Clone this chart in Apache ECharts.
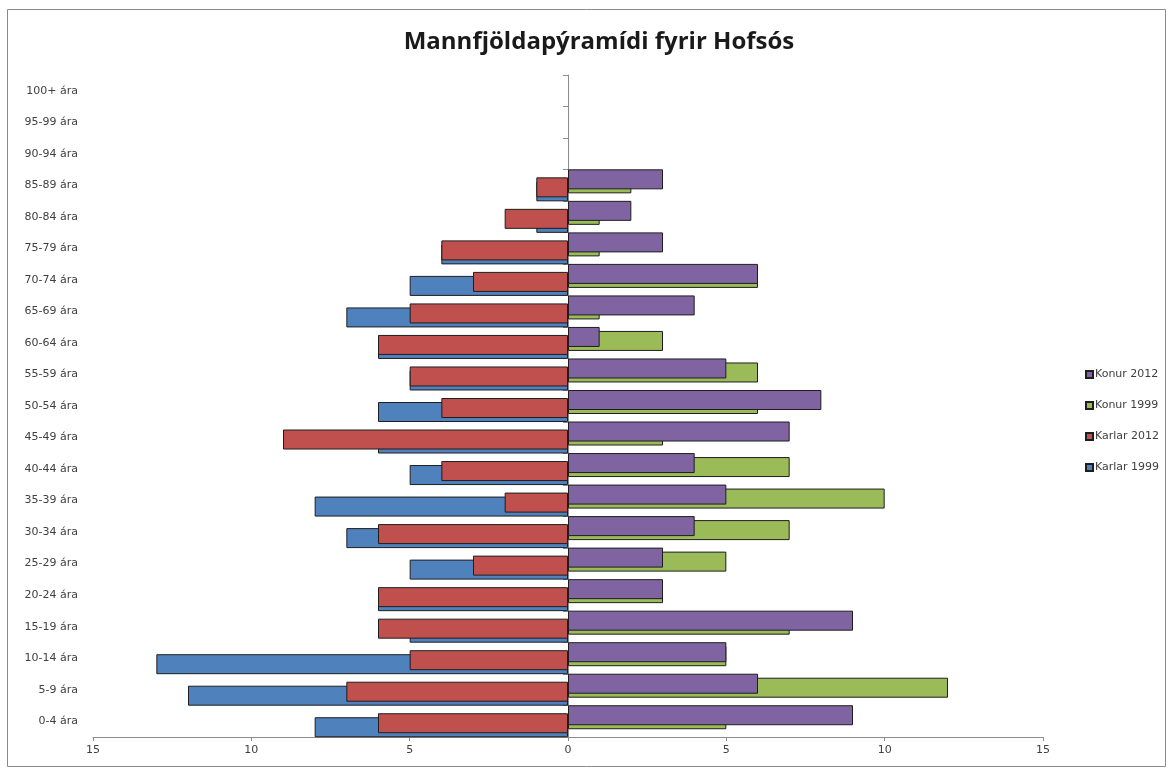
<!DOCTYPE html>
<html>
<head>
<meta charset="utf-8">
<script src="https://cdn.jsdelivr.net/npm/echarts@6/dist/echarts.min.js"></script>
<style>
html,body{margin:0;padding:0;background:#fff;}
#chart{width:1171px;height:770px;}
</style>
</head>
<body>
<div id="chart"></div>
<script>
const categories = ['0-4 ára','5-9 ára','10-14 ára','15-19 ára','20-24 ára','25-29 ára','30-34 ára','35-39 ára','40-44 ára','45-49 ára','50-54 ára','55-59 ára','60-64 ára','65-69 ára','70-74 ára','75-79 ára','80-84 ára','85-89 ára','90-94 ára','95-99 ára','100+ ára'];
const karlar1999 = [8,12,13,5,6,5,7,8,5,6,6,5,6,7,5,4,1,1,0,0,0];
const karlar2012 = [6,7,5,6,6,3,6,2,4,9,4,5,6,5,3,4,2,1,0,0,0];
const konur1999 = [5,12,5,7,3,5,7,10,7,3,6,6,3,1,6,1,1,2,0,0,0];
const konur2012 = [9,6,5,9,3,3,4,5,4,7,8,5,1,4,6,3,2,3,0,0,0];
const xTicks = [-15,-10,-5,0,5,10,15];

const chart = echarts.init(document.getElementById('chart'));
const font = 'DejaVu Sans';
const border = {borderColor:'#1e1e1e', borderWidth:1};
function mk(name, data, color, neg, z){
  return {
    name: name, type:'bar', yAxisIndex:0, z: z,
    data: data.map(v => v === 0 ? null : (neg ? -v : v)),
    barWidth: 20, barGap: '-80%',
    itemStyle: Object.assign({color: color}, border),
    emphasis: {disabled:true}
  };
}
chart.setOption({
  animation:false,
  backgroundColor:'#fff',
  title:{text:'Mannfjöldapýramídi fyrir Hofsós', left:594, top:25, textAlign:'center',
    textStyle:{fontFamily:'Open Sans', fontWeight:'bold', fontSize:24, color:'#1a1a1a'}},
  legend:{
    orient:'vertical', left:1080, top:364, itemWidth:7, itemHeight:7, itemGap:20,
    icon:'rect',
    data:['Konur 2012','Konur 1999','Karlar 2012','Karlar 1999'],
    textStyle:{fontFamily:font, fontSize:11, color:'#404040', padding:[0,0,0,-3]}
  },
  grid:{left:93, right:128, top:75, bottom:33},
  xAxis:{
    type:'value', min:xTicks[0], max:xTicks[xTicks.length-1], interval:5,
    axisLine:{show:true, lineStyle:{color:'#8c8c8c'}},
    axisTick:{show:true, length:4, lineStyle:{color:'#8c8c8c'}},
    splitLine:{show:false},
    axisLabel:{formatter:v=>String(Math.abs(v)), fontFamily:font, fontSize:11, color:'#404040', margin:8}
  },
  yAxis:[{
    type:'category', data:categories, position:'left',
    axisLine:{show:true, onZero:true, lineStyle:{color:'#8c8c8c'}},
    axisTick:{show:true, length:5, lineStyle:{color:'#8c8c8c'}},
    axisLabel:{show:false}
  },{
    type:'category', data:categories, position:'left',
    axisLine:{show:false, onZero:false}, axisTick:{show:false},
    axisLabel:{fontFamily:font, fontSize:11, color:'#404040', margin:15}
  }],
  graphic:[{type:'rect', shape:{x:7.5,y:9.5,width:1158,height:757}, style:{fill:'none', stroke:'#8a8a8a', lineWidth:1}, silent:true, z:-1}],
  series:[
    mk('Konur 2012', konur2012, '#8064a2', false, 5),
    mk('Konur 1999', konur1999, '#9bbb59', false, 4),
    mk('Karlar 2012', karlar2012, '#c0504d', true, 3),
    mk('Karlar 1999', karlar1999, '#4f81bd', true, 2)
  ]
});
</script>
</body>
</html>
